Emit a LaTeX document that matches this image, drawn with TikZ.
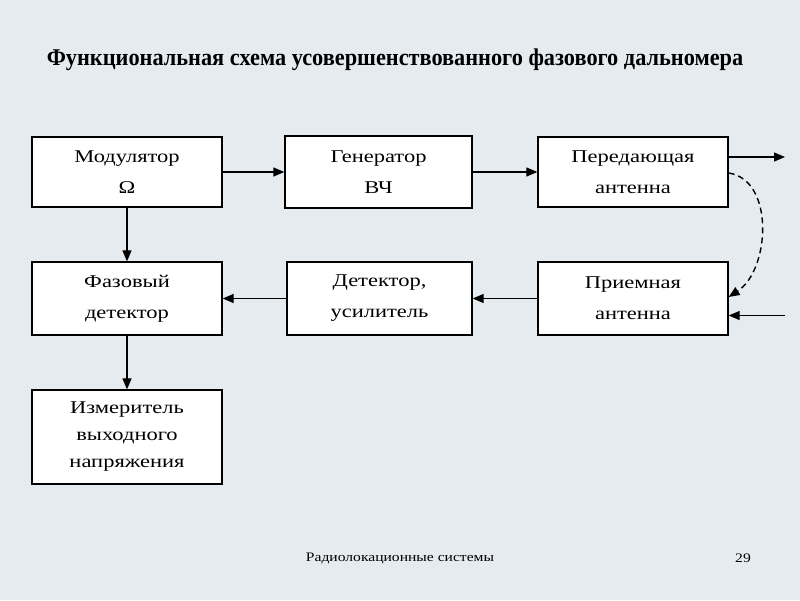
\documentclass[tikz,border=0pt]{standalone}
\usepackage{fontspec}
\setmainfont{Liberation Serif}
\newfontfamily\boxfont[FakeStretch=1.25]{Liberation Serif}
\newfontfamily\titlefont[FakeStretch=0.93]{Liberation Serif Bold}
\newfontfamily\footfont[FakeStretch=1.2]{Liberation Serif}
\usetikzlibrary{arrows.meta}
\definecolor{bgc}{RGB}{230,235,239}
\tikzset{
  blk/.style={draw=black, line width=1.3pt, fill=white, align=center, inner sep=2pt,
    font=\boxfont\fontsize{18}{31}\selectfont},
  arr/.style={line width=1.2pt, -{Triangle[length=11pt,width=9pt]}},
  darr/.style={line width=1.4pt, dash pattern=on 6pt off 4pt, -{Triangle[length=11pt,width=9pt]}}
}
\begin{document}
\begin{tikzpicture}[x=1pt,y=-1pt]
\fill[bgc] (0,0) rectangle (800,600);
\useasboundingbox (0,0) rectangle (800,600);
\node[font=\titlefont\fontsize{24}{26}\selectfont] (title) at (395,60) {Функциональная схема усовершенствованного фазового дальномера};
\node[blk, minimum width=190pt, minimum height=70pt] (mod) at (127,172) {Модулятор\\Ω};
\node[blk, minimum width=187pt, minimum height=72pt] (gen) at (378.5,172) {Генератор\\ВЧ};
\node[blk, minimum width=190pt, minimum height=70pt] (per) at (633,172) {Передающая\\антенна};
\node[blk, minimum width=190pt, minimum height=73pt] (faz) at (127,298.5) {Фазовый\\детектор};
\node[blk, minimum width=185pt, minimum height=73pt] (det) at (379.5,298.5) {Детектор,\\усилитель};
\node[blk, minimum width=190pt, minimum height=73pt] (pri) at (633,298.5) {Приемная\\антенна};
\node[blk, minimum width=190pt, minimum height=94pt, font=\boxfont\fontsize{18}{27}\selectfont] (izm) at (127,437) {Измеритель\\выходного\\напряжения};
\coordinate (outE) at (785,157);
\coordinate (inE) at (785,315.5);
\draw[arr] (mod) -- (gen);
\draw[arr] (gen) -- (per);
\draw[arr] ([yshift=15pt]per.east) -- (outE);
\draw[arr] (pri) -- (det);
\draw[arr] (det) -- (faz);
\draw[arr] (mod) -- (faz);
\draw[arr] (faz) -- (izm);
\draw[arr] (inE) -- ([yshift=-17pt]pri.east);
\draw[darr] ([yshift=-1pt]per.east) .. controls (775,180) and (770,270) .. ([yshift=1.5pt]pri.east);
\node[font=\footfont\fontsize{13}{15}\selectfont] (foot) at (400,558) {Радиолокационные системы};
\node[font=\footfont\fontsize{13}{15}\selectfont] (page) at (743,558) {29};
\end{tikzpicture}
\end{document}
